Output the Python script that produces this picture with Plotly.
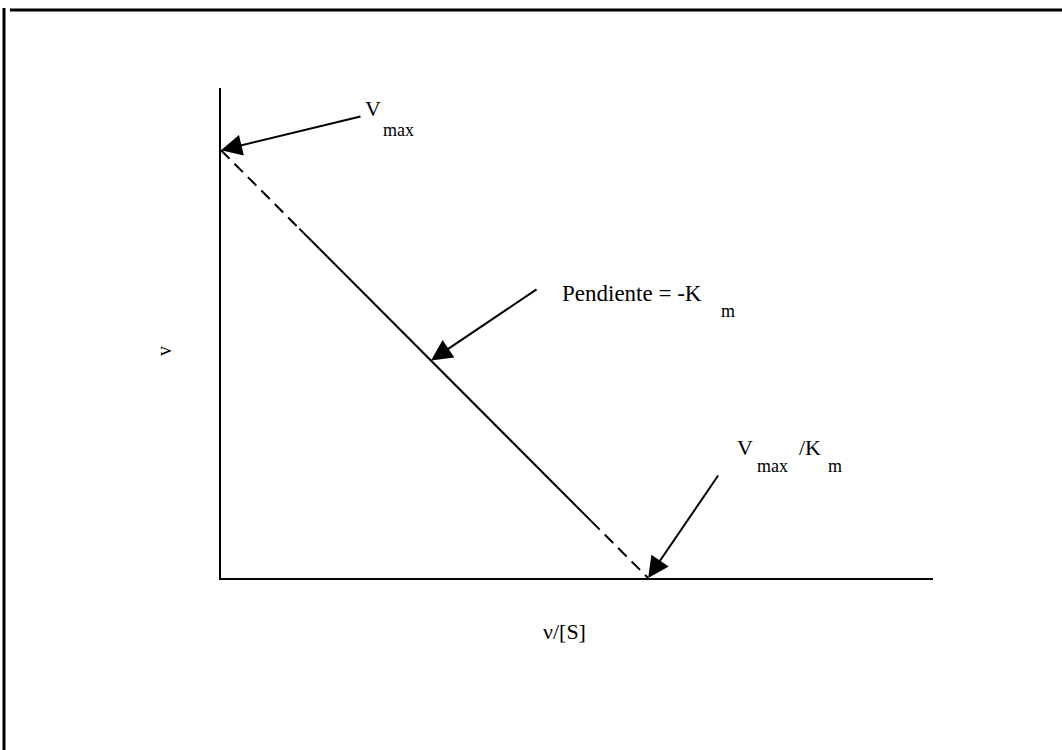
import plotly.graph_objects as go

# Eadie-Hofstee plot data
vmax = 8.73           # y-intercept (V_max)
vmax_km = 6.0         # x-intercept (V_max/K_m)
seg_x = [0.0, 1.1, 5.2, 6.0]      # breakpoints along the line
seg_y = [8.73, 7.13, 1.16, 0.0]
pend_pt = (2.95, 4.44)            # point where slope arrow hits the line

# plot area in pixels
W, H = 1062, 750
L, R, T, B = 221, 933, 88, 578

def px(x):
    return (x - L) / (R - L)

def py(y):
    return (B - y) / (B - T)

FONT = "Liberation Serif"

fig = go.Figure()
line = dict(color="black", width=2)
fig.add_trace(go.Scatter(x=seg_x[0:2], y=seg_y[0:2], mode="lines",
                         line=dict(color="black", width=2, dash="12px,7px"), hoverinfo="skip"))
fig.add_trace(go.Scatter(x=seg_x[1:3], y=seg_y[1:3], mode="lines",
                         line=line, hoverinfo="skip"))
fig.add_trace(go.Scatter(x=seg_x[2:4], y=seg_y[2:4], mode="lines",
                         line=dict(color="black", width=2, dash="12px,7px"), hoverinfo="skip"))

annotations = []

def text(s, x, y, size=20):
    annotations.append(dict(text=s, x=px(x), y=py(y), xref="paper", yref="paper",
                            showarrow=False, xanchor="center", yanchor="middle",
                            font=dict(family=FONT, size=size, color="black")))

def arrow(hx, hy, tail_px, head_px):
    annotations.append(dict(text="", x=hx, y=hy, xref="x", yref="y",
                            ax=tail_px[0] - head_px[0], ay=tail_px[1] - head_px[1],
                            axref="pixel", ayref="pixel",
                            showarrow=True, arrowhead=2, arrowsize=2.1, arrowwidth=2,
                            arrowcolor="black", standoff=0))

# labels
text("V", 373, 109, 22)
text("max", 398, 130, 18)
text("Pendiente = -K", 632, 293, 23)
text("m", 728, 311, 18)
text("V", 745, 447, 22)
text("max", 772, 466, 18)
text("/K", 810, 447, 22)
text("m", 835, 466, 18)
text("ν/[S]", 564, 631, 22)
annotations.append(dict(text="v", x=px(164), y=py(351), xref="paper", yref="paper",
                        showarrow=False, textangle=-90, xanchor="center", yanchor="middle",
                        font=dict(family=FONT, size=20, color="black")))

# arrows
arrow(seg_x[0], seg_y[0], (363, 118), (222, 152))
arrow(pend_pt[0], pend_pt[1], (542, 295), (435, 367))
arrow(seg_x[3], seg_y[3], (720, 473), (649, 577))

fig.update_layout(
    width=W, height=H,
    margin=dict(l=L, r=W - R, t=T, b=H - B),
    paper_bgcolor="white", plot_bgcolor="white",
    showlegend=False,
    annotations=annotations,
    xaxis=dict(range=[0, 10], showgrid=False, zeroline=False, showticklabels=False,
               ticks="", showline=True, linecolor="black", linewidth=2),
    yaxis=dict(range=[0, 10], showgrid=False, zeroline=False, showticklabels=False,
               ticks="", showline=True, linecolor="black", linewidth=2),
    shapes=[
        dict(type="line", xref="paper", yref="paper", x0=px(10), x1=px(1062),
             y0=py(10), y1=py(10), line=dict(color="black", width=3)),
        dict(type="line", xref="paper", yref="paper", x0=px(4), x1=px(4),
             y0=py(8), y1=py(750), line=dict(color="black", width=3)),
    ],
)

fig.write_html("out.html", config={"displayModeBar": False},
               post_script="document.body.style.margin='0';document.body.style.overflow='hidden';")
